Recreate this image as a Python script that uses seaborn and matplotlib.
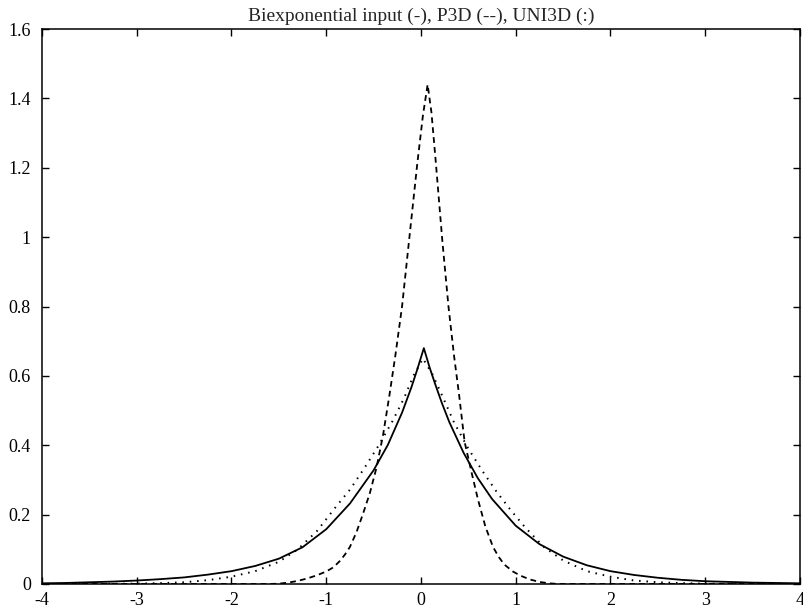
import matplotlib
matplotlib.use("Agg")
import matplotlib.pyplot as plt
import seaborn as sns
import pandas as pd

# ---- data ----
input_x = [-4.0, -3.75, -3.5, -3.25, -3.0, -2.75, -2.5, -2.25, -2.0, -1.75, -1.5, -1.25,
           -1.0, -0.75, -0.5, -0.35, -0.2, -0.1, -0.04, 0.03, 0.09, 0.15, 0.22, 0.3, 0.45,
           0.6, 0.75, 1.0, 1.25, 1.5, 1.75, 2.0, 2.25, 2.5, 2.75, 3.0, 3.25, 3.5, 3.75, 4.0]
input_y = [0.002, 0.003, 0.005, 0.007, 0.010, 0.014, 0.019, 0.027, 0.037, 0.052, 0.073, 0.106,
           0.158, 0.232, 0.328, 0.401, 0.494, 0.568, 0.618, 0.680, 0.625, 0.576, 0.522, 0.466, 0.378,
           0.305, 0.245, 0.168, 0.115, 0.079, 0.054, 0.037, 0.026, 0.018, 0.012, 0.008, 0.006,
           0.004, 0.003, 0.002]

p3d_x = [-4.0, -3.0, -2.0, -1.6, -1.5, -1.4, -1.3, -1.2, -1.1, -1.0, -0.925, -0.85, -0.8,
         -0.75, -0.68, -0.61, -0.54, -0.47, -0.40, -0.33, -0.27, -0.20, -0.13, -0.04, 0.02,
         0.07, 0.11, 0.155, 0.225, 0.29, 0.35, 0.40, 0.46, 0.535, 0.6, 0.68, 0.76, 0.82,
         0.88, 0.97, 1.05, 1.15, 1.25, 1.35, 1.45, 2.0, 3.0, 4.0]
p3d_y = [0.0, 0.0, 0.0, 0.0, 0.001, 0.004, 0.009, 0.016, 0.025, 0.036, 0.048, 0.068, 0.086,
         0.107, 0.150, 0.204, 0.262, 0.335, 0.430, 0.550, 0.660, 0.800, 0.980, 1.210, 1.350,
         1.440, 1.360, 1.220, 0.990, 0.800, 0.655, 0.550, 0.410, 0.320, 0.245, 0.165, 0.107, 0.078,
         0.056, 0.036, 0.024, 0.013, 0.006, 0.002, 0.0, 0.0, 0.0, 0.0]

uni3d_x = [-4.0, -3.25, -3.0, -2.75, -2.5, -2.25, -2.0, -1.75, -1.5, -1.3, -1.1, -0.9,
           -0.75, -0.6, -0.45, -0.3, -0.18, -0.08, 0.02, 0.12, 0.22, 0.35, 0.5, 0.65,
           0.8, 0.95, 1.1, 1.3, 1.5, 1.75, 2.0, 2.25, 2.5, 2.75, 3.0, 4.0]
uni3d_y = [0.0, 0.0005, 0.001, 0.0025, 0.005, 0.011, 0.021, 0.037, 0.064, 0.100, 0.152, 0.222,
           0.272, 0.333, 0.398, 0.470, 0.535, 0.600, 0.650, 0.605, 0.545, 0.465, 0.390, 0.325,
           0.265, 0.212, 0.163, 0.106, 0.068, 0.037, 0.021, 0.010, 0.005, 0.0025, 0.001, 0.0]

x_ticks = [-4, -3, -2, -1, 0, 1, 2, 3, 4]
x_tick_labels = ["-4", "-3", "-2", "-1", "0", "1", "2", "3", "4"]
y_ticks = [0, 0.2, 0.4, 0.6, 0.8, 1.0, 1.2, 1.4, 1.6]
y_tick_labels = ["0", "0.2", "0.4", "0.6", "0.8", "1", "1.2", "1.4", "1.6"]
title = "Biexponential input (-), P3D (--), UNI3D (:)"

# ---- style ----
sns.set_style("ticks")
plt.rcParams["font.family"] = ["Liberation Serif", "DejaVu Serif"]
plt.rcParams["xtick.direction"] = "in"
plt.rcParams["ytick.direction"] = "in"

fig = plt.figure(figsize=(8.04, 6.14), dpi=100)
ax = fig.add_axes([42 / 804, 30 / 614, 758 / 804, 555 / 614])

df_in = pd.DataFrame({"x": input_x, "y": input_y})
df_p3d = pd.DataFrame({"x": p3d_x, "y": p3d_y})
df_uni = pd.DataFrame({"x": uni3d_x, "y": uni3d_y})

sns.lineplot(data=df_in, x="x", y="y", ax=ax, color="black", lw=1.3,
             linestyle="-", estimator=None, sort=False)
sns.lineplot(data=df_p3d, x="x", y="y", ax=ax, color="black", lw=1.3,
             estimator=None, sort=False).lines[-1].set_dashes([3.2, 2.3])
sns.lineplot(data=df_uni, x="x", y="y", ax=ax, color="black", lw=1.4,
             estimator=None, sort=False).lines[-1].set_dashes([0.8, 3.0])

ax.set_xlim(-4, 4)
ax.set_ylim(0, 1.6)
ax.set_xticks(x_ticks)
ax.set_xticklabels(x_tick_labels)
ax.set_yticks(y_ticks)
ax.set_yticklabels(y_tick_labels)
ax.set_xlabel("")
ax.set_ylabel("")
ax.tick_params(axis="both", which="both", direction="in", length=5, width=1,
               top=True, right=True, labelsize=13, colors="black")
ax.tick_params(axis="x", pad=6)
ax.tick_params(axis="y", pad=8)
for s in ax.spines.values():
    s.set_visible(True)
    s.set_color("black")
    s.set_linewidth(1.1)
ax.set_title(title, fontsize=14, pad=6)

fig.savefig("out.png", dpi=100, facecolor="white")
